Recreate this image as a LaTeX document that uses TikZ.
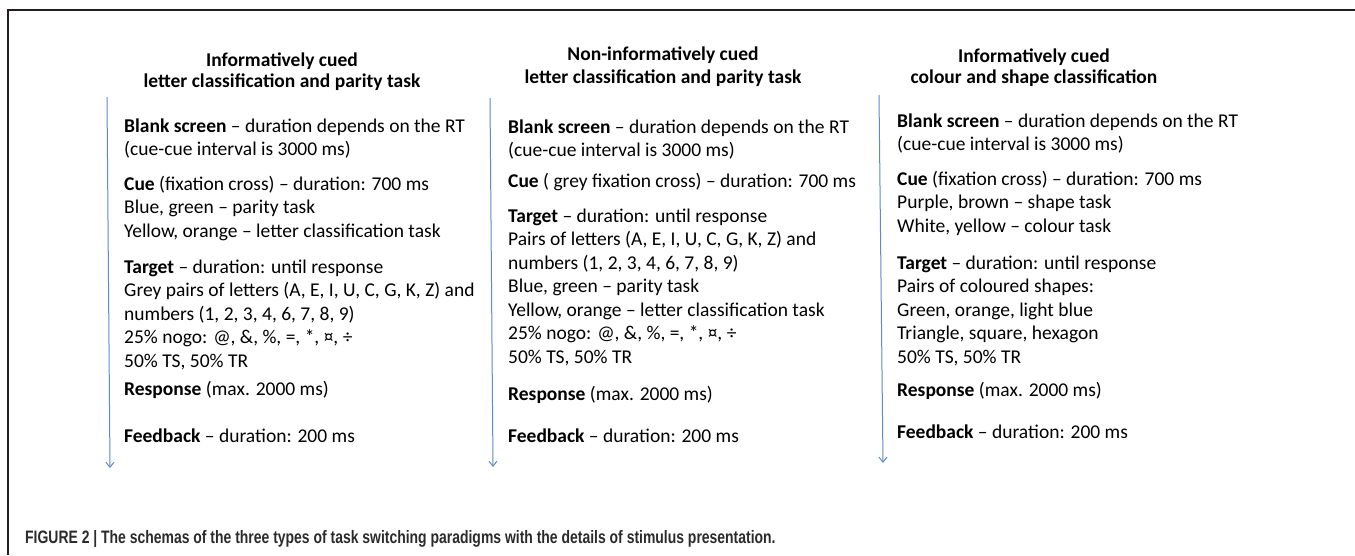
\documentclass[tikz,border=0pt]{standalone}
\usepackage{fontspec}
\setmainfont{Carlito}
\newfontfamily\capfont{Liberation Sans}
\usetikzlibrary{arrows.meta}
\definecolor{framecol}{HTML}{231F20}
\definecolor{timecol}{HTML}{5B8BC9}
\definecolor{capcol}{HTML}{2B2B2B}
% stacked lines whose baseline is that of the first line
\newcommand\stack[1]{\begin{tabular}[t]{@{}l@{}}#1\end{tabular}}

\begin{document}
\begin{tikzpicture}[x=1pt,y=-1pt,
  body/.style={anchor=base west, inner sep=0pt,
    font=\fontsize{19.5}{23.5}\selectfont},
  head/.style={anchor=base, inner sep=0pt,
    font=\fontsize{19.5}{21}\selectfont\bfseries},
  timeline/.style={draw=timecol, line width=1pt,
    -{Straight Barb[length=5pt,width=8pt]}},
]
\useasboundingbox (0,0) rectangle (1355,555);
\draw[framecol, line width=2pt] (8,555) -- (8,10) -- (1355,10);

% column 1
\node[head] (h1a) at (282,66) {Informatively cued};
\node[head] (h1b) at (282,87) {letter classification and parity task};
\node[body] (b1) at (124,132) {\stack{\textbf{Blank screen} – duration depends on the RT\\(cue-cue interval is 3000 ms)}};
\node[body] (c1) at (124,190) {\stack{\textbf{Cue} (fixation cross) – duration: 700 ms\\Blue, green – parity task\\Yellow, orange – letter classification task}};
\node[body] (t1) at (124,273) {\stack{\textbf{Target} – duration: until response\\Grey pairs of letters (A, E, I, U, C, G, K, Z) and\\numbers (1, 2, 3, 4, 6, 7, 8, 9)\\25\% nogo: @, \&, \%, =, *, ¤, ÷\\50\% TS, 50\% TR}};
\node[body] (r1) at (124,395) {\textbf{Response} (max. 2000 ms)};
\node[body] (f1) at (124,442) {\textbf{Feedback} – duration: 200 ms};
\coordinate (s1) at (107,97);
\coordinate (e1) at (110,468);
\draw[timeline] (s1) -- (e1);

% column 2
\node[head] (h2a) at (663,60) {Non-informatively cued};
\node[head] (h2b) at (663,83) {letter classification and parity task};
\node[body] (b2) at (508,133) {\stack{\textbf{Blank screen} – duration depends on the RT\\(cue-cue interval is 3000 ms)}};
\node[body] (c2) at (508,187) {\textbf{Cue} ( grey fixation cross) – duration: 700 ms};
\node[body] (t2) at (508,222) {\stack{\textbf{Target} – duration: until response\\Pairs of letters (A, E, I, U, C, G, K, Z) and\\numbers (1, 2, 3, 4, 6, 7, 8, 9)\\Blue, green – parity task\\Yellow, orange – letter classification task\\25\% nogo: @, \&, \%, =, *, ¤, ÷\\50\% TS, 50\% TR}};
\node[body] (r2) at (508,400) {\textbf{Response} (max. 2000 ms)};
\node[body] (f2) at (508,442) {\textbf{Feedback} – duration: 200 ms};
\coordinate (s2) at (490,98);
\coordinate (e2) at (493,467);
\draw[timeline] (s2) -- (e2);

% column 3
\node[head] (h3a) at (1034,62) {Informatively cued};
\node[head] (h3b) at (1034,83) {colour and shape classification};
\node[body] (b3) at (897,127) {\stack{\textbf{Blank screen} – duration depends on the RT\\(cue-cue interval is 3000 ms)}};
\node[body] (c3) at (897,185) {\stack{\textbf{Cue} (fixation cross) – duration: 700 ms\\Purple, brown – shape task\\White, yellow – colour task}};
\node[body] (t3) at (897,269) {\stack{\textbf{Target} – duration: until response\\Pairs of coloured shapes:\\Green, orange, light blue\\Triangle, square, hexagon\\50\% TS, 50\% TR}};
\node[body] (r3) at (897,396) {\textbf{Response} (max. 2000 ms)};
\node[body] (f3) at (897,438) {\textbf{Feedback} – duration: 200 ms};
\coordinate (s3) at (879,95);
\coordinate (e3) at (883,463);
\draw[timeline] (s3) -- (e3);

% caption
\node[anchor=base west, inner sep=0pt, text=capcol, font=\capfont\bfseries\fontsize{18}{20}\selectfont] (cap) at (25,543)
  {\scalebox{0.775}[1]{FIGURE 2 | The schemas of the three types of task switching paradigms with the details of stimulus presentation.}};
\end{tikzpicture}
\end{document}
